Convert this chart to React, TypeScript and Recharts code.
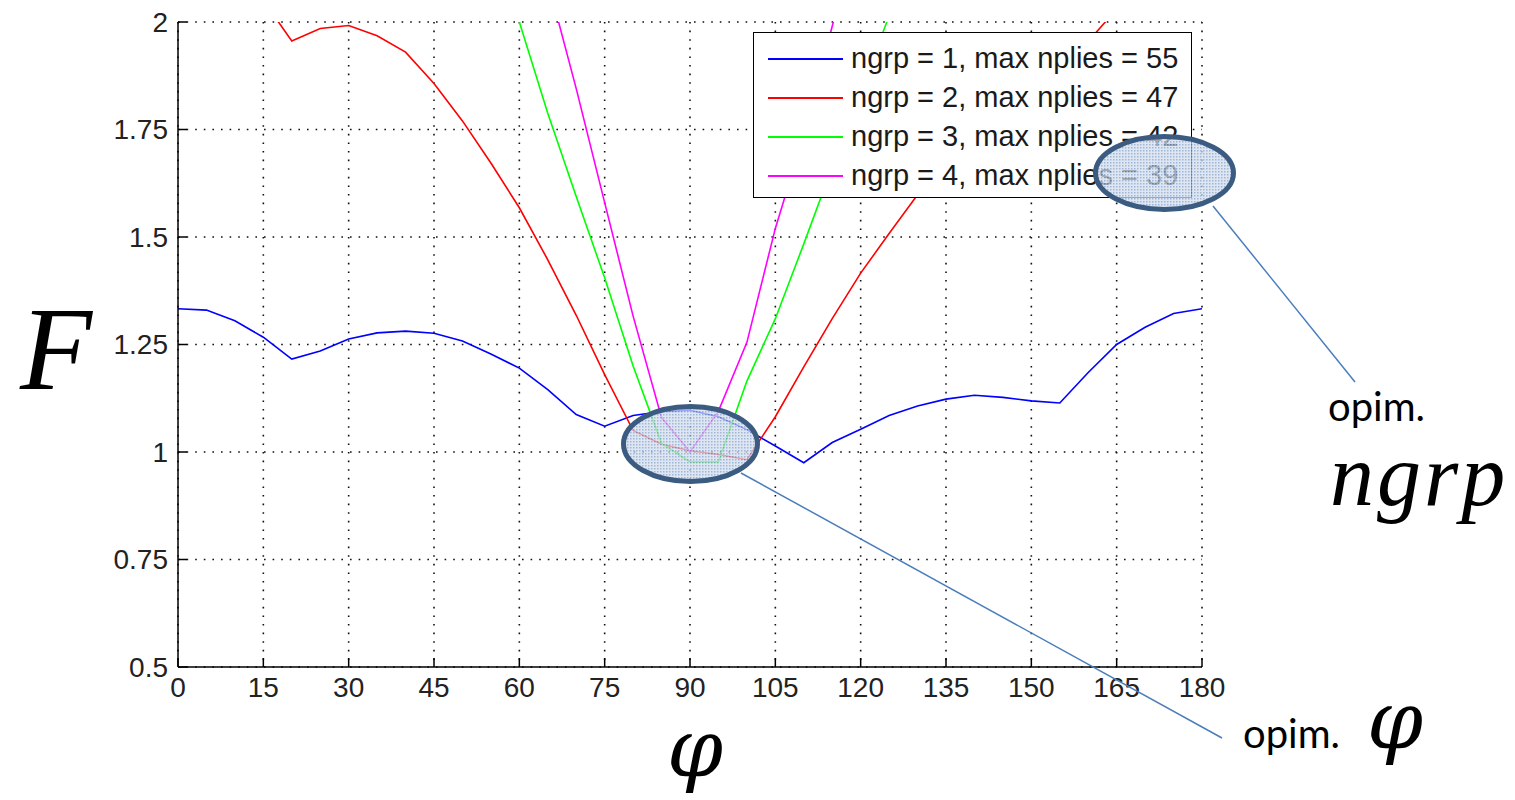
import { LineChart, Line, XAxis, YAxis, CartesianGrid, Legend } from 'recharts';

// fibre angle phi (deg), sampled every 5 degrees
const phi = [
  0, 5, 10, 15, 20, 25, 30, 35, 40, 45, 50, 55, 60, 65, 70, 75, 80, 85, 90,
  95, 100, 105, 110, 115, 120, 125, 130, 135, 140, 145, 150, 155, 160, 165, 170, 175, 180,
];

// failure index F for each ply-group count (null = not computed / out of range)
const fNgrp1 = [
  1.333, 1.33, 1.305, 1.267, 1.216, 1.235, 1.263, 1.277, 1.281, 1.276, 1.258, 1.228, 1.195,
  1.145, 1.087, 1.06, 1.085, 1.094, 1.097, 1.082, 1.052, 1.014, 0.975, 1.022, 1.053, 1.085,
  1.107, 1.123, 1.132, 1.127, 1.119, 1.114, 1.185, 1.25, 1.29, 1.322, 1.333,
];
const fNgrp2 = [
  2.3, 2.22, 2.14, 2.05, 1.956, 1.985, 1.992, 1.968, 1.93, 1.857, 1.77, 1.672, 1.568,
  1.447, 1.318, 1.18, 1.05, 1.018, 1.003, 0.994, 0.982, 1.082, 1.198, 1.31, 1.416, 1.508,
  1.598, 1.68, 1.752, 1.818, 1.876, 1.92, 1.955, 2.03, 2.12, 2.21, 2.3,
];
const fNgrp3 = [
  null, null, null, null, null, null, null, null, null, null, null, null, 2.0,
  1.788, 1.594, 1.405, 1.2, 1.02, 0.977, 0.977, 1.165, 1.31, 1.484, 1.663, 1.84, 2.014,
  null, null, null, null, null, null, null, null, null, null, null,
];
const fNgrp4 = [
  null, null, null, null, null, null, null, null, null, null, null, null, null,
  2.095, 1.845, 1.58, 1.316, 1.08, 1.0, 1.095, 1.255, 1.52, 1.737, 1.99, 2.24, null,
  null, null, null, null, null, null, null, null, null, null, null,
];

const seriesNames = [
  'ngrp = 1, max nplies = 55',
  'ngrp = 2, max nplies = 47',
  'ngrp = 3, max nplies = 42',
  'ngrp = 4, max nplies = 39',
];
const seriesColors = ['#0000ff', '#ff0000', '#00ff00', '#ff00ff'];

const phiTicks = [0, 15, 30, 45, 60, 75, 90, 105, 120, 135, 150, 165, 180];
const fTicks = [0.5, 0.75, 1, 1.25, 1.5, 1.75, 2];

const rows = phi.map((p, i) => ({
  phi: p,
  g1: fNgrp1[i],
  g2: fNgrp2[i],
  g3: fNgrp3[i],
  g4: fNgrp4[i],
}));
const seriesKeys = ['g1', 'g2', 'g3', 'g4'];

const tickFont = { fontSize: 28, fill: '#222', fontFamily: 'Liberation Sans, Arial, sans-serif' };

function MatlabLegend({ payload }: { payload?: any[] }) {
  return (
    <div
      style={{
        width: 439,
        height: 166,
        boxSizing: 'border-box',
        border: '1.5px solid #000',
        background: '#fff',
        paddingTop: 6,
        fontFamily: 'Liberation Sans, Arial, sans-serif',
        fontSize: 29,
        color: '#1a1a1a',
      }}
    >
      {(payload ?? []).map((p) => (
        <div key={p.value} style={{ display: 'flex', alignItems: 'center', height: 39 }}>
          <span
            style={{
              display: 'inline-block',
              width: 75,
              height: 2,
              marginLeft: 14,
              marginRight: 8,
              background: p.color,
            }}
          />
          <span style={{ lineHeight: '39px', whiteSpace: 'nowrap' }}>{p.value}</span>
        </div>
      ))}
    </div>
  );
}

export default function App() {
  return (
    <div style={{ position: 'absolute', left: 0, top: 0, width: 1515, height: 800, background: '#fff' }}>
      <LineChart
        width={1515}
        height={800}
        data={rows}
        margin={{ top: 22, right: 313, bottom: 93, left: 118 }}
      >
        <CartesianGrid
          xAxisId="phi"
          yAxisId="F"
          stroke="#111"
          strokeWidth={1.6}
          strokeDasharray="1.6 7"
        />
        <XAxis
          xAxisId="phi"
          dataKey="phi"
          type="number"
          domain={[0, 180]}
          ticks={phiTicks}
          allowDataOverflow
          height={40}
          stroke="#000"
          strokeWidth={1.5}
          tickSize={-9}
          tickMargin={19}
          tick={tickFont}
          interval={0}
        />
        <XAxis
          xAxisId="phiTop"
          dataKey="phi"
          type="number"
          orientation="top"
          domain={[0, 180]}
          ticks={phiTicks}
          height={0}
          stroke="#000"
          strokeWidth={1.5}
          tickSize={-9}
          tickFormatter={() => ''}
          interval={0}
        />
        <YAxis
          yAxisId="F"
          type="number"
          domain={[0.5, 2]}
          ticks={fTicks}
          allowDataOverflow
          width={60}
          stroke="#000"
          strokeWidth={1.5}
          tickSize={-9}
          tickMargin={19}
          tick={tickFont}
          interval={0}
        />
        <YAxis
          yAxisId="Fright"
          type="number"
          orientation="right"
          domain={[0.5, 2]}
          ticks={fTicks}
          width={0}
          stroke="#000"
          strokeWidth={1.5}
          tickSize={-9}
          tickFormatter={() => ''}
          interval={0}
        />
        <Legend
          layout="vertical"
          align="center"
          verticalAlign="middle"
          content={(props: any) => <MatlabLegend payload={props.payload} />}
          wrapperStyle={{ left: 753, top: 32, width: 439, height: 166 }}
        />
        {seriesKeys.map((k, i) => (
          <Line
            key={k}
            xAxisId="phi"
            yAxisId="F"
            dataKey={k}
            name={seriesNames[i]}
            stroke={seriesColors[i]}
            strokeWidth={1.6}
            dot={false}
            activeDot={false}
            type="linear"
            isAnimationActive={false}
          />
        ))}
      </LineChart>

      {/* slide annotations on top of the plot */}
      <svg
        width={1515}
        height={800}
        style={{ position: 'absolute', left: 0, top: 0, pointerEvents: 'none' }}
      >
        <defs>
          <pattern id="dots" width="3" height="3" patternUnits="userSpaceOnUse">
            <rect width="3" height="3" fill="#d3deed" />
            <rect width="1.5" height="1.5" fill="#7f9fcc" />
          </pattern>
        </defs>
        <line x1={741} y1={473} x2={1222} y2={738} stroke="#4a7ebb" strokeWidth={1.5} />
        <line x1={1213} y1={206} x2={1355} y2={382} stroke="#4a7ebb" strokeWidth={1.5} />
        <ellipse cx={690.5} cy={444} rx={67} ry={37.5} fill="url(#dots)" fillOpacity={0.75} stroke="#3b5b80" strokeWidth={5} />
        <ellipse cx={1164.5} cy={173} rx={69} ry={36.5} fill="url(#dots)" fillOpacity={0.75} stroke="#3b5b80" strokeWidth={5} />

        <text x={56} y={389} fontFamily="Liberation Serif, serif" fontStyle="italic" fontSize={118} textAnchor="middle" fill="#000">F</text>
        <text x={695} y={776} fontFamily="DejaVu Serif, serif" fontStyle="italic" fontSize={80} textAnchor="middle" fill="#000">φ</text>

        <text x={1328} y={421} fontFamily="Lato, sans-serif" fontSize={40} fill="#000">opim.</text>
        <text x={1330} y={505} fontFamily="Liberation Serif, serif" fontStyle="italic" fontSize={88} letterSpacing={3} fill="#000">ngrp</text>

        <text x={1243} y={748} fontFamily="Lato, sans-serif" fontSize={40} fill="#000">opim.</text>
        <text x={1395} y={748} fontFamily="DejaVu Serif, serif" fontStyle="italic" fontSize={80} textAnchor="middle" fill="#000">φ</text>
      </svg>
    </div>
  );
}
